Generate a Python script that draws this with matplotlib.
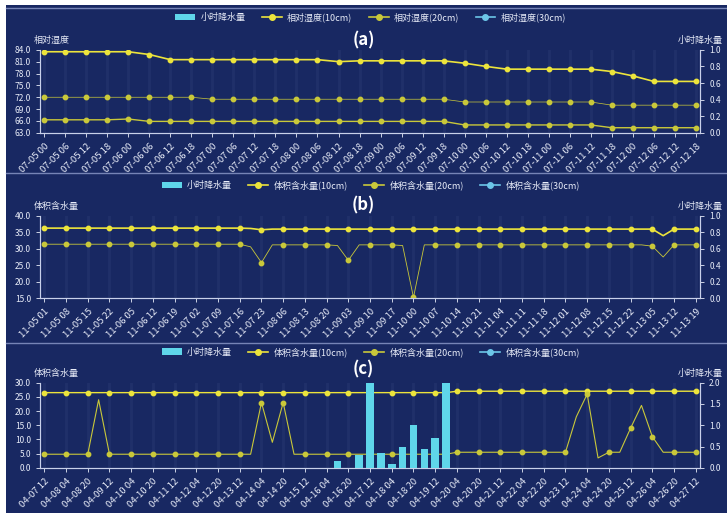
import numpy as np
import pandas as pd
import matplotlib
matplotlib.use("Agg")
import matplotlib.pyplot as plt
from matplotlib.lines import Line2D
from matplotlib.patches import Patch, Rectangle

plt.rcParams['font.family'] = ['Noto Sans CJK SC', 'DejaVu Sans']

BG = '#182862'
TXT = '#e8ecf8'
C_RAIN = '#5fd6ea'
C_10 = '#ece43c'
C_20 = '#c9c83a'
C_30 = '#6cc6e8'

# ---- panel (a): relative humidity, 32 samples ----
a_labels = pd.date_range('2021-07-05 00:00', periods=32, freq='6h').strftime('%m-%d %H')
a_10 = [83.5, 83.5, 83.5, 83.5, 83.5, 82.8, 81.5, 81.5, 81.5, 81.5, 81.5, 81.5, 81.5, 81.5, 81.0, 81.2,
        81.2, 81.2, 81.2, 81.2, 80.6, 79.8, 79.1, 79.1, 79.1, 79.1, 79.1, 78.5, 77.4, 76.0, 76.0, 76.0]
a_20 = [72.0, 72.0, 72.0, 72.0, 72.0, 72.0, 72.0, 72.0, 71.5, 71.5, 71.5, 71.5, 71.5, 71.5, 71.5, 71.5,
        71.5, 71.5, 71.5, 71.5, 70.8, 70.8, 70.8, 70.8, 70.8, 70.8, 70.8, 70.0, 70.0, 70.0, 70.0, 70.0]
a_30 = [66.3, 66.3, 66.3, 66.3, 66.5, 65.9, 65.9, 65.9, 65.9, 65.9, 65.9, 65.9, 65.9, 65.9, 65.9, 65.9,
        65.9, 65.9, 65.9, 65.9, 65.0, 65.0, 65.0, 65.0, 65.0, 65.0, 65.0, 64.3, 64.3, 64.3, 64.3, 64.3]
a_rain = [0.0] * 32

# ---- panel (b): volumetric water content, 61 samples ----
b_labels = pd.date_range('2021-11-05 01:00', periods=31, freq='7h').strftime('%m-%d %H')
b_10 = [31.4, 31.4, 31.4, 31.4, 31.4, 31.4, 31.4, 31.4, 31.4, 31.4, 31.4, 31.4, 31.4, 31.4, 31.4, 31.4,
        31.4, 31.4, 31.4, 30.6, 25.8, 31.2, 31.2, 31.2, 31.2, 31.2, 31.2, 31.0, 26.5, 31.2, 31.2, 31.2,
        31.2, 31.0, 15.2, 31.2, 31.2, 31.2, 31.2, 31.2, 31.2, 31.2, 31.2, 31.2, 31.2, 31.2, 31.2, 31.2,
        31.2, 31.2, 31.2, 31.2, 31.2, 31.2, 31.2, 31.2, 30.8, 27.5, 31.2, 31.2, 31.2]
b_20 = [36.3, 36.3, 36.3, 36.3, 36.3, 36.3, 36.3, 36.3, 36.3, 36.3, 36.3, 36.3, 36.3, 36.3, 36.3, 36.3,
        36.3, 36.3, 36.3, 36.2, 35.8, 36.0, 36.0, 36.0, 36.0, 36.0, 36.0, 36.0, 36.0, 36.0, 36.0, 36.0,
        36.0, 36.0, 36.0, 36.0, 36.0, 36.0, 36.0, 36.0, 36.0, 36.0, 36.0, 36.0, 36.0, 36.0, 36.0, 36.0,
        36.0, 36.0, 36.0, 36.0, 36.0, 36.0, 36.0, 36.0, 36.0, 34.0, 36.0, 36.0, 36.0]
b_rain = [0.0] * 61

# ---- panel (c): volumetric water content, 61 samples ----
c_labels = pd.date_range('2021-04-07 12:00', periods=31, freq='16h').strftime('%m-%d %H')
c_10 = [26.5, 26.5, 26.5, 26.5, 26.5, 26.5, 26.5, 26.5, 26.5, 26.5, 26.5, 26.5, 26.5, 26.5, 26.5, 26.5,
        26.5, 26.5, 26.5, 26.5, 26.5, 26.5, 26.5, 26.5, 26.5, 26.5, 26.5, 26.5, 26.5, 26.5, 26.5, 26.5,
        26.5, 26.5, 26.5, 26.5, 26.5, 26.5, 27.0, 27.0, 27.0, 27.0, 27.0, 27.0, 27.0, 27.0, 27.0, 27.0,
        27.0, 27.0, 27.0, 27.0, 27.0, 27.0, 27.0, 27.0, 27.0, 27.0, 27.0, 27.0, 27.0]
c_30 = [4.8, 4.8, 4.8, 4.8, 4.8, 24.0, 4.8, 4.8, 4.8, 4.8, 4.8, 4.8, 4.8, 4.8, 4.8, 4.8,
        4.8, 4.8, 4.8, 4.8, 23.0, 9.0, 23.0, 4.8, 4.8, 4.8, 4.8, 4.8, 4.8, 4.8, 4.8, 4.8,
        4.8, 4.8, 4.8, 4.8, 4.8, 4.8, 5.5, 5.5, 5.5, 5.5, 5.5, 5.5, 5.5, 5.5, 5.5, 5.5,
        5.5, 18.0, 26.0, 3.5, 5.5, 5.5, 14.0, 22.0, 11.0, 5.5, 5.5, 5.5, 5.5]
c_rain = [0.0] * 27 + [0.15, 0.0, 0.3, 2.0, 0.35, 0.1, 0.5, 1.0, 0.45, 0.7, 2.0] + [0.0] * 23

fig = plt.figure(figsize=(7.27, 5.13), dpi=100, facecolor='white')
fig.patches.append(Rectangle((0.008, 0), 0.992, 0.99, transform=fig.transFigure,
                             facecolor=BG, edgecolor='none', zorder=-10))
for yy in [0.984, 0.663, 0.331]:
    fig.add_artist(Line2D([0.008, 1.0], [yy, yy], color='#8f9ccc', lw=1.0, alpha=0.8))


def style_axis(ax):
    ax.set_facecolor('none')
    ax.spines['top'].set_visible(False)
    for s in ['left', 'right', 'bottom']:
        ax.spines[s].set_color('#c8d0ea')
        ax.spines[s].set_linewidth(0.8)
    ax.tick_params(colors=TXT, labelsize=6, length=3, width=0.6)


def panel(rect, tag, series, names, rain, labels, lstep, yl, yticks, ylab, rl, rticks, leg_y, tag_y):
    n = len(series[0][0])
    x = np.arange(n)
    ax = fig.add_axes(rect)
    style_axis(ax)
    ax.grid(axis='x', color='#8090c8', alpha=0.08, lw=2)
    ax.set_axisbelow(True)
    for vals, col, lw in series:
        ax.plot(x, vals, color=col, lw=lw, marker='o', ms=3.2, markevery=lstep,
                markeredgecolor=col, zorder=3)
    ax.set_xlim(-0.2 * lstep, n - 1 + 0.2 * lstep)
    ax.set_ylim(*yl)
    ax.set_yticks(yticks)
    ax.set_yticklabels([f'{v:.1f}' for v in yticks])
    ax.set_xticks(x[::lstep])
    ax.set_xticklabels(labels, rotation=45, ha='right', rotation_mode='anchor', fontsize=6.8)
    ax.text(-0.01, 1.06, ylab, transform=ax.transAxes, color=TXT, fontsize=6.5,
            ha='left', va='bottom')

    ax2 = ax.twinx()
    style_axis(ax2)
    ax2.bar(x, rain, width=0.7, color=C_RAIN, zorder=4)
    ax2.set_ylim(*rl)
    ax2.set_yticks(rticks)
    ax2.set_yticklabels([f'{v:.1f}' for v in rticks])
    ax2.text(1.0, 1.06, '小时降水量', transform=ax2.transAxes, color=TXT, fontsize=6.5,
             ha='center', va='bottom')

    handles = [Patch(facecolor=C_RAIN, edgecolor='none')]
    for col in [C_10, C_20, C_30]:
        handles.append(Line2D([0], [0], color=col, lw=1.2, marker='o', ms=4))
    fig.legend(handles, ['小时降水量'] + names, loc='center', ncol=4,
               bbox_to_anchor=(0.51, leg_y), frameon=False, fontsize=6.5,
               labelcolor=TXT, handlelength=2.2, columnspacing=1.8, handletextpad=0.6)
    fig.text(0.5, tag_y, tag, color='white', fontsize=12, fontweight='bold',
             ha='center', va='center')


a_names = ['相对湿度(10cm)', '相对湿度(20cm)', '相对湿度(30cm)']
b_names = ['体积含水量(10cm)', '体积含水量(20cm)', '体积含水量(30cm)']

panel([0.055, 0.741, 0.908, 0.162], '(a)',
      [(a_10, C_10, 1.2), (a_20, C_20, 0.5), (a_30, C_20, 1.0)], a_names, a_rain,
      a_labels, 1, (63, 84), np.arange(63, 84.1, 3), '相对湿度',
      (0, 1.0), np.arange(0, 1.01, 0.2), 0.966, 0.922)

panel([0.055, 0.419, 0.908, 0.160], '(b)',
      [(b_20, C_10, 1.2), (b_10, C_20, 0.6)], b_names, b_rain,
      b_labels, 2, (15, 40), np.arange(15, 40.1, 5), '体积含水量',
      (0, 1.0), np.arange(0, 1.01, 0.2), 0.639, 0.600)

panel([0.055, 0.088, 0.908, 0.166], '(c)',
      [(c_10, C_10, 1.0), (c_30, C_20, 0.8)], b_names, c_rain,
      c_labels, 2, (0, 30), np.arange(0, 30.1, 5), '体积含水量',
      (0, 2.0), np.arange(0, 2.01, 0.5), 0.314, 0.279)

fig.savefig('out.png', dpi=100, facecolor=fig.get_facecolor())
